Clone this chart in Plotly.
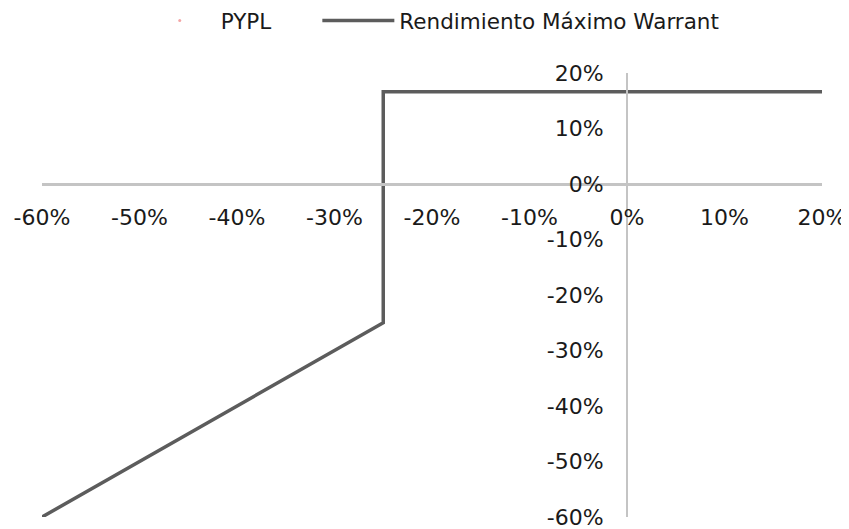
import plotly.graph_objects as go

# Data (fractions)
warrant_x = [-0.60, -0.25, -0.25, 0.20]
warrant_y = [-0.60, -0.25, 0.166, 0.166]
pypl_x = [None]
pypl_y = [None]

tick_vals = [-0.6, -0.5, -0.4, -0.3, -0.2, -0.1, 0.0, 0.1, 0.2]
tick_text = ["-60%", "-50%", "-40%", "-30%", "-20%", "-10%", "0%", "10%", "20%"]

FONT = "DejaVu Sans"
axis_col = "#c4c4c4"
text_col = "#1a1a1a"

fig = go.Figure()
fig.add_trace(go.Scatter(x=pypl_x, y=pypl_y, name="PYPL", mode="markers",
                         marker=dict(color="#f4a6a6", size=3), legend="legend"))
fig.add_trace(go.Scatter(x=warrant_x, y=warrant_y, name="Rendimiento Máximo Warrant",
                         mode="lines", line=dict(color="#5c5c5c", width=3.5),
                         legend="legend2"))

leg_common = dict(orientation="h", yanchor="middle", y=1.118, xanchor="left",
                  font=dict(size=21.5), itemwidth=72, bgcolor="rgba(0,0,0,0)")

fig.update_layout(
    width=841, height=521,
    margin=dict(l=34, r=27, t=65, b=12, autoexpand=False),
    paper_bgcolor="white", plot_bgcolor="white",
    font=dict(family=FONT, size=22, color=text_col),
    showlegend=True,
    legend=dict(x=0.124, **leg_common),
    legend2=dict(x=0.353, **leg_common),
    xaxis=dict(range=[-0.6, 0.2], tickvals=tick_vals, ticktext=tick_text,
               showgrid=False, zeroline=False, showline=True, linecolor=axis_col,
               linewidth=2.5, anchor="free", position=0.75, side="bottom",
               ticks="", ticklabelstandoff=13, ticklabeloverflow="allow"),
    yaxis=dict(range=[-0.6, 0.2], tickvals=tick_vals, ticktext=tick_text,
               showgrid=False, zeroline=False, showline=True, linecolor=axis_col,
               linewidth=2, anchor="free", position=0.75, side="left",
               ticks="", ticklabelstandoff=18, ticklabeloverflow="allow"),
)

fig.write_html("out.html")
